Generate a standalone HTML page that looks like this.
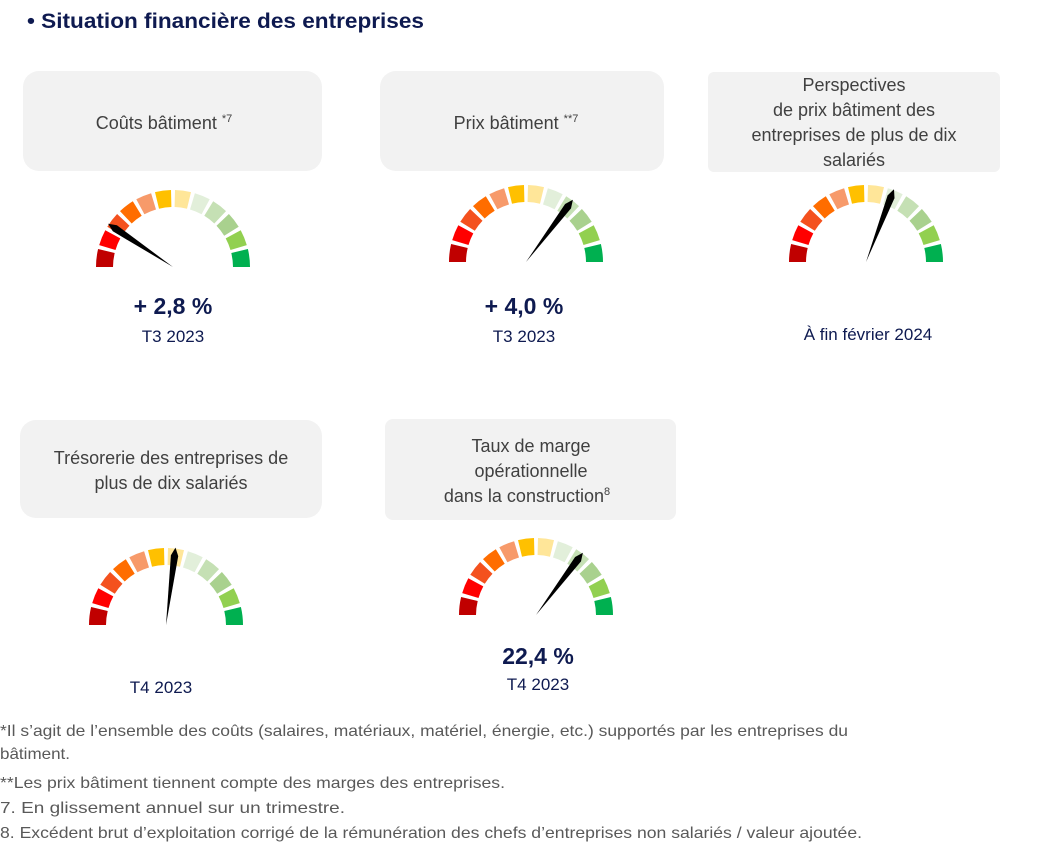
<!DOCTYPE html>
<html><head><meta charset="utf-8"><style>
body{margin:0;background:#fff;width:1053px;height:846px;overflow:hidden}
text{font-family:"Liberation Sans",sans-serif}
</style></head><body>
<svg id="s" width="1053" height="846" xmlns="http://www.w3.org/2000/svg">
<text x="27" y="28" font-size="21" font-weight="bold" fill="#0e1a50" textLength="397" lengthAdjust="spacingAndGlyphs">• Situation financière des entreprises</text>
<g fill="#f2f2f2">
<rect x="23" y="71" width="299" height="100" rx="16"/>
<rect x="380" y="71" width="284" height="100" rx="16"/>
<rect x="708" y="72" width="292" height="100" rx="6"/>
<rect x="20" y="420" width="302" height="98" rx="16"/>
<rect x="385" y="419" width="291" height="101" rx="8"/>
</g>
<g font-size="18" fill="#404040" text-anchor="middle">
<text x="164" y="129">Coûts bâtiment <tspan font-size="11" dy="-7">*7</tspan></text>
<text x="516" y="129">Prix bâtiment <tspan font-size="11" dy="-7">**7</tspan></text>
<text x="854" y="91">Perspectives</text>
<text x="854" y="116">de prix bâtiment des</text>
<text x="854" y="141">entreprises de plus de dix</text>
<text x="854" y="166">salariés</text>
<text x="171" y="464">Trésorerie des entreprises de</text>
<text x="171" y="489">plus de dix salariés</text>
<text x="531" y="452">Taux de marge</text>
<text x="531" y="477">opérationnelle</text>
<text x="527" y="502">dans la construction<tspan font-size="11" dy="-7">8</tspan></text>
</g>
<g font-size="23" font-weight="bold" fill="#0e1a50" text-anchor="middle">
<text x="173" y="314">+ 2,8 %</text>
<text x="524" y="314">+ 4,0 %</text>
<text x="538" y="664">22,4 %</text>
</g>
<g font-size="17" fill="#0e1a50" text-anchor="middle">
<text x="173" y="342">T3 2023</text>
<text x="524" y="342">T3 2023</text>
<text x="868" y="340">À fin février 2024</text>
<text x="161" y="693">T4 2023</text>
<text x="538" y="690">T4 2023</text>
</g>
<g font-size="16" fill="#595959" lengthAdjust="spacingAndGlyphs">
<text x="0" y="736" textLength="848" lengthAdjust="spacingAndGlyphs">*Il s’agit de l’ensemble des coûts (salaires, matériaux, matériel, énergie, etc.) supportés par les entreprises du</text>
<text x="0" y="759" textLength="70" lengthAdjust="spacingAndGlyphs">bâtiment.</text>
<text x="0" y="788" textLength="505" lengthAdjust="spacingAndGlyphs">**Les prix bâtiment tiennent compte des marges des entreprises.</text>
<text x="0" y="813" textLength="345" lengthAdjust="spacingAndGlyphs">7. En glissement annuel sur un trimestre.</text>
<text x="0" y="838" textLength="862" lengthAdjust="spacingAndGlyphs">8. Excédent brut d’exploitation corrigé de la rémunération des chefs d’entreprises non salariés / valeur ajoutée.</text>
</g>
<g id="g"></g>
</svg>
<script>
var cols=["#c00000","#ff0000","#f4511e","#ff6d00","#f79a6a","#ffc000","#ffe699","#e2efda","#c5e0b4","#a9d18e","#92d050","#00b050"];
var gauges=[[173,267,33.7],[526,262,127],[866,262,111],[166,625,97],[536,615,127]];
var R=77,r=60,out="";
function p(cx,cy,rad,a){a=a*Math.PI/180;return (cx-rad*Math.cos(a)).toFixed(1)+","+(cy-rad*Math.sin(a)).toFixed(1);}
gauges.forEach(function(g){
 var cx=g[0],cy=g[1];
 for(var i=0;i<12;i++){
  var a0=i*15+1.5,a1=(i+1)*15-1.5;
  if(i==0)a0=0; if(i==11)a1=180;
  out+='<path fill="'+cols[i]+'" d="M'+p(cx,cy,R,a0)+' A'+R+','+R+' 0 0 1 '+p(cx,cy,R,a1)+' L'+p(cx,cy,r,a1)+' A'+r+','+r+' 0 0 0 '+p(cx,cy,r,a0)+'Z"/>';
 }
 var a=g[2];
 var tip=p(cx,cy,78,a),b1=p(cx,cy,70,a-3),b2=p(cx,cy,70,a+3);
 out+='<polygon fill="#000" points="'+p(cx,cy,0,a)+' '+b1+' '+tip+' '+b2+'"/>';
});
document.getElementById("g").innerHTML=out;
</script>
</body></html>
